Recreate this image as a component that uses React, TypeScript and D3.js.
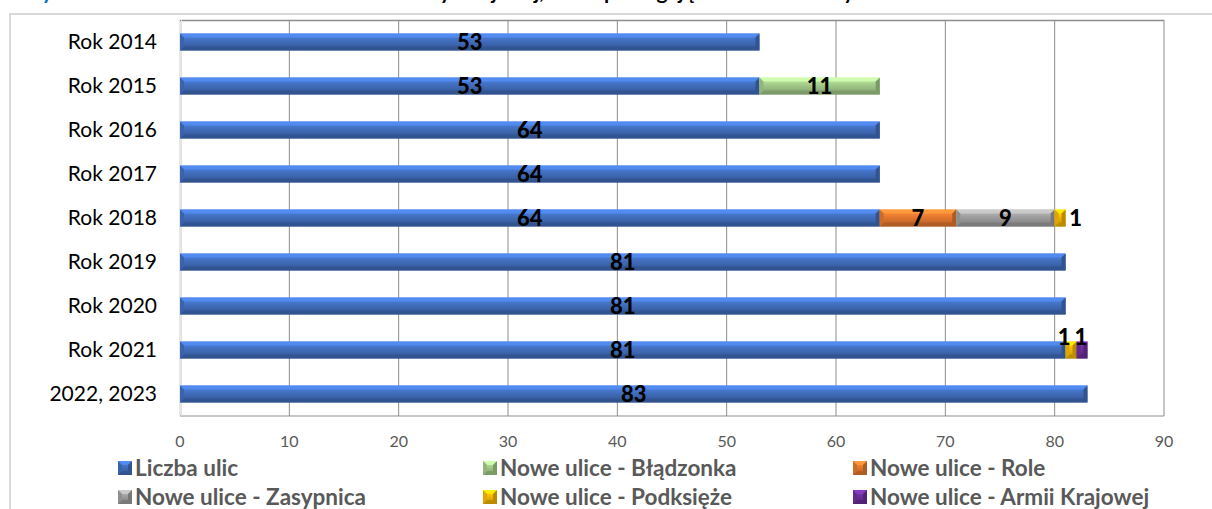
import React from "react";
import * as d3 from "d3";

const categories = ["Rok 2014", "Rok 2015", "Rok 2016", "Rok 2017", "Rok 2018", "Rok 2019", "Rok 2020", "Rok 2021", "2022, 2023"];
const liczbaUlic = [53, 53, 64, 64, 64, 81, 81, 81, 83];
const bladzonka = [0, 11, 0, 0, 0, 0, 0, 0, 0];
const role = [0, 0, 0, 0, 7, 0, 0, 0, 0];
const zasypnica = [0, 0, 0, 0, 9, 0, 0, 0, 0];
const podksieze = [0, 0, 0, 0, 1, 0, 0, 1, 0];
const armiiKrajowej = [0, 0, 0, 0, 0, 0, 0, 1, 0];
const xTicks = [0, 10, 20, 30, 40, 50, 60, 70, 80, 90];

const seriesNames = ["Liczba ulic", "Nowe ulice - Błądzonka", "Nowe ulice - Role", "Nowe ulice - Zasypnica", "Nowe ulice - Podksięże", "Nowe ulice - Armii Krajowej"];
const seriesValues = [liczbaUlic, bladzonka, role, zasypnica, podksieze, armiiKrajowej];
const seriesColors = ["#4472C4", "#A9D18E", "#ED7D31", "#A5A5A5", "#FFC000", "#7030A0"];

const W = 1212, H = 509;
const M = { left: 180, right: 1164, top: 20, bottom: 416 };
const FONT = "Lato, 'Open Sans', sans-serif";

function Seg({ x0, x1, yc, h, i }: { x0: number; x1: number; yc: number; h: number; i: number }) {
  const c = seriesColors[i];
  const y0 = yc - h / 2, y1 = yc + h / 2;
  const b = Math.min(4, (x1 - x0) / 2);
  const light = d3.color(c)!.brighter(0.6).formatHex();
  const dark = d3.color(c)!.darker(0.9).formatHex();
  const mid = d3.color(c)!.darker(0.4).formatHex();
  const pts = (a: number[][]) => a.map((p) => p.join(",")).join(" ");
  return (
    <g>
      <rect x={x0} y={y0} width={x1 - x0} height={h} fill={`url(#grad${i})`} />
      <polygon points={pts([[x0, y0], [x1, y0], [x1 - b, y0 + b], [x0 + b, y0 + b]])} fill={light} opacity={0.85} />
      <polygon points={pts([[x0, y1], [x1, y1], [x1 - b, y1 - b], [x0 + b, y1 - b]])} fill={dark} opacity={0.8} />
      <polygon points={pts([[x0, y0], [x0 + b, y0 + b], [x0 + b, y1 - b], [x0, y1]])} fill={mid} />
      <polygon points={pts([[x1, y0], [x1 - b, y0 + b], [x1 - b, y1 - b], [x1, y1]])} fill={dark} />
    </g>
  );
}

export default function App() {
  const x = d3.scaleLinear().domain([0, 90]).range([M.left, M.right]);
  const y = d3.scaleBand().domain(categories).range([M.top, M.bottom]);
  const barH = 17;

  const segs: { i: number; j: number; v0: number; v1: number }[] = [];
  categories.forEach((_c, j) => {
    let acc = 0;
    seriesValues.forEach((vals, i) => {
      const v = vals[j];
      if (v > 0) segs.push({ i, j, v0: acc, v1: acc + v });
      acc += v;
    });
  });

  const legendCols = [118, 483, 853];
  const legendRows = [468, 497];

  return (
    <svg width={W} height={H} style={{ position: "absolute", left: 0, top: 0, background: "#fff" }}>
      <defs>
        {seriesColors.map((c, i) => (
          <linearGradient key={i} id={`grad${i}`} x1="0" y1="0" x2="0" y2="1">
            <stop offset="0" stopColor={d3.color(c)!.brighter(0.5).formatHex()} />
            <stop offset="0.35" stopColor={c} />
            <stop offset="0.6" stopColor={d3.color(c)!.darker(0.3).formatHex()} />
            <stop offset="1" stopColor={d3.color(c)!.darker(0.8).formatHex()} />
          </linearGradient>
        ))}
      </defs>
      {/* title, cut off at the top edge as in the original */}
      <text x={20} y={-1} fontFamily={FONT} fontWeight="bold" fontSize={21} fill="#0070C0">Wykres 1:</text>
      <text x={190} y={-1} fontFamily={FONT} fontWeight="bold" fontSize={21} fill="#000">
        Liczba ulic na terenie Gminy Miejskiej, które podlegają zimowemu utrzymaniu w latach
      </text>
      {/* outer chart border */}
      <rect x={10} y={14} width={W} height={H} fill="none" stroke="#d9d9d9" strokeWidth={2} />
      {/* grid */}
      {xTicks.map((t) => (
        <line key={t} x1={x(t)} x2={x(t)} y1={M.top} y2={M.bottom} stroke={t === 0 ? "#d0d0d0" : "#8c8c8c"} strokeWidth={1} />
      ))}
      <line x1={M.left} x2={M.right} y1={M.top + 0.5} y2={M.top + 0.5} stroke="#8c8c8c" strokeWidth={1.5} />
      <line x1={M.left} x2={M.right} y1={M.bottom} y2={M.bottom} stroke="#8c8c8c" strokeWidth={1} />
      <line x1={M.left + 1.5} x2={M.left + 1.5} y1={M.top} y2={M.bottom} stroke="#e0e0e0" strokeWidth={1} />
      {/* tick labels */}
      {xTicks.map((t) => (
        <text key={t} x={x(t)} y={447} textAnchor="middle" fontFamily={FONT} fontSize={16} fill="#595959">{t}</text>
      ))}
      {/* category labels */}
      {categories.map((c) => (
        <text key={c} x={157} y={y(c)! + y.bandwidth() / 2 + 7} textAnchor="end" fontFamily={FONT} fontSize={21} fill="#000">{c}</text>
      ))}
      {/* bars */}
      {segs.map((s, k) => (
        <Seg key={k} x0={x(s.v0)} x1={x(s.v1)} yc={y(categories[s.j])! + y.bandwidth() / 2} h={barH} i={s.i} />
      ))}
      {/* value labels */}
      {segs.map((s, k) => {
        const yc = y(categories[s.j])! + y.bandwidth() / 2;
        let lx = (x(s.v0) + x(s.v1)) / 2;
        let ly = yc + 8;
        const w = s.v1 - s.v0;
        if (w === 1 && s.j === 4) { lx = x(s.v1) + 10; }
        if (w === 1 && s.j === 7) { lx = (x(s.v0) + x(s.v1)) / 2 + (s.i === 4 ? -7 : -1); ly = yc - 5; }
        return (
          <text key={k} x={lx} y={ly} textAnchor="middle" fontFamily={FONT} fontWeight="900" fontSize={22} fill="#000">
            {seriesValues[s.i][s.j]}
          </text>
        );
      })}
      {/* legend */}
      {seriesNames.map((n, i) => {
        const lx = legendCols[i % 3];
        const ly = legendRows[Math.floor(i / 3)];
        return (
          <g key={n}>
            <Seg x0={lx} x1={lx + 14} yc={ly} h={14} i={i} />
            <text x={lx + 17} y={ly + 8} fontFamily={FONT} fontWeight="bold" fontSize={22.5} fill="#595959">{n}</text>
          </g>
        );
      })}
    </svg>
  );
}
